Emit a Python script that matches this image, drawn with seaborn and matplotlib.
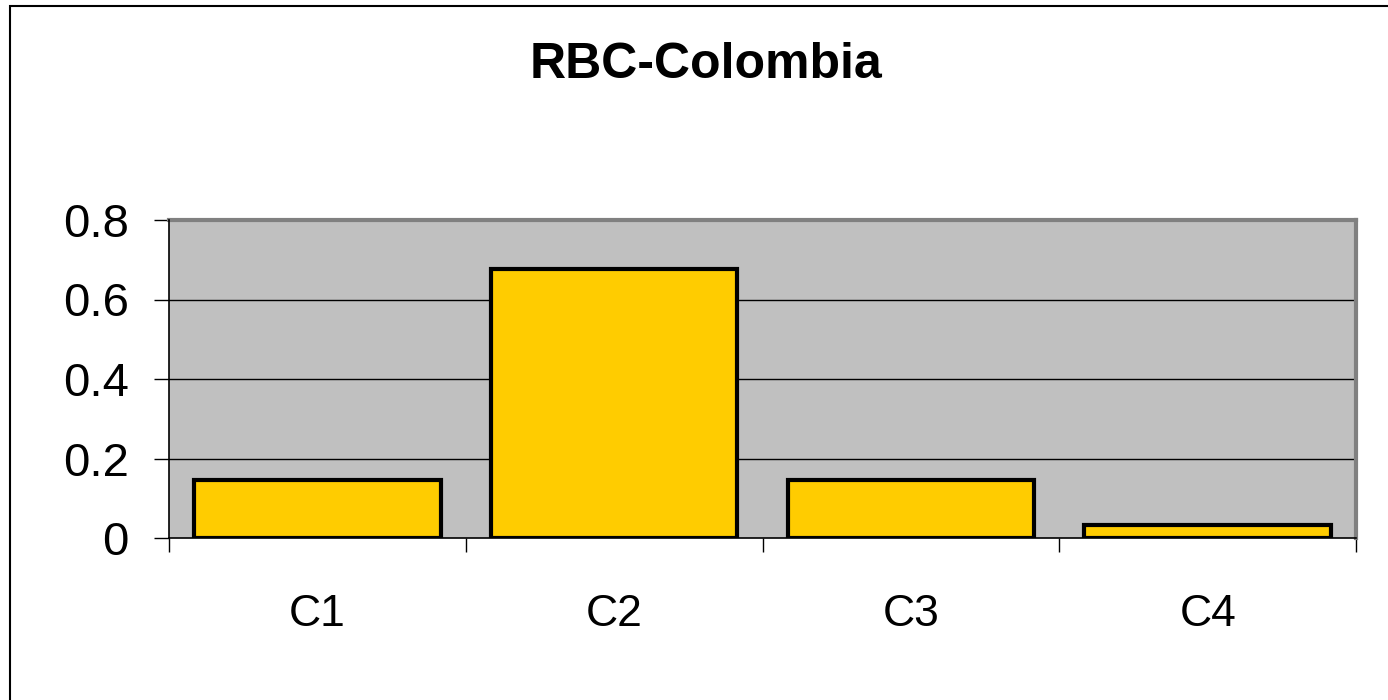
import pandas as pd
import matplotlib.pyplot as plt
import seaborn as sns
from matplotlib.patches import Rectangle
from matplotlib.ticker import FixedLocator

# data
categories = ['C1', 'C2', 'C3', 'C4']
values = [0.146, 0.676, 0.146, 0.032]
y_ticks = [0, 0.2, 0.4, 0.6, 0.8]
y_tick_labels = ['0', '0.2', '0.4', '0.6', '0.8']

df = pd.DataFrame({'category': categories, 'value': values})

sns.set_style('white')
plt.rcParams['font.family'] = ['Liberation Sans', 'DejaVu Sans']
plt.rcParams['text.color'] = 'black'
plt.rcParams['xtick.color'] = 'black'
plt.rcParams['ytick.color'] = 'black'

fig = plt.figure(figsize=(13.88, 7), dpi=100)
ax = fig.add_axes([169 / 1388, 1 - 538 / 700, (1356 - 169) / 1388, (538 - 220) / 700])
ax.set_facecolor('#C0C0C0')

sns.barplot(data=df, x='category', y='value', color='#FFCC00', saturation=1,
            edgecolor='black', linewidth=3, width=0.83, ax=ax, zorder=3)

ax.set_ylim(0, 0.8)
ax.set_xlim(-0.5, 3.5)
ax.set_yticks(y_ticks)
ax.set_yticklabels(y_tick_labels, fontsize=34)
for y in y_ticks[1:-1]:
    ax.axhline(y, color='black', linewidth=1.0, zorder=1)

# x ticks sit between the categories, labels in the middle
ax.xaxis.set_minor_locator(FixedLocator([-0.5, 0.5, 1.5, 2.5, 3.5]))
ax.tick_params(axis='x', which='major', bottom=True, length=0, labelsize=32,
               labelcolor='black', pad=40)
ax.tick_params(axis='x', which='minor', bottom=True, length=10, width=1,
               color='black', direction='out')
ax.tick_params(axis='y', left=True, length=11, width=1, color='black',
               labelcolor='black', direction='out', pad=18)
ax.set_xlabel('')
ax.set_ylabel('')

for side in ['top', 'right']:
    ax.spines[side].set_color('#808080')
    ax.spines[side].set_linewidth(3)
for side in ['left', 'bottom']:
    ax.spines[side].set_color('black')
    ax.spines[side].set_linewidth(1.2)
    ax.spines[side].set_zorder(4)

fig.text(706 / 1388, 1 - 65 / 700, 'RBC-Colombia', ha='center', va='center',
         fontsize=36, fontweight='bold', color='black')

# outer chart border (runs off the right and bottom edge)
fig.patches.append(Rectangle((10 / 1388, -0.1), 1.2, 1.1 - 6 / 700, transform=fig.transFigure,
                             fill=False, edgecolor='black', linewidth=1.5))

fig.savefig('out.png', dpi=100)
